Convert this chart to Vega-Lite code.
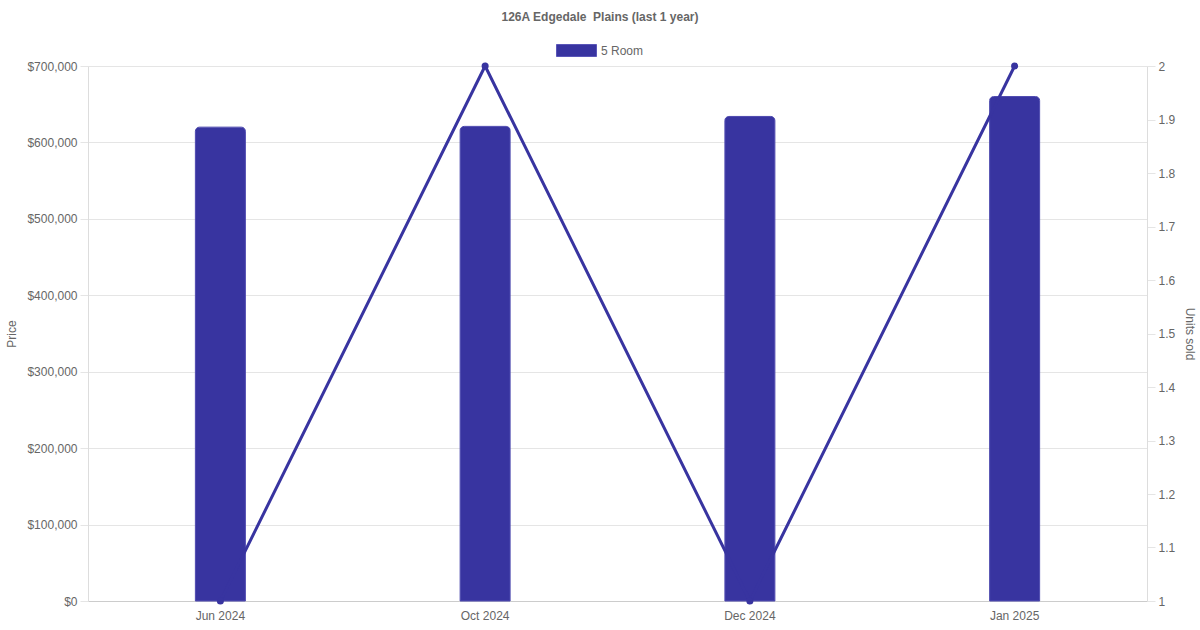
{
  "$schema": "https://vega.github.io/schema/vega-lite/v6.json",
  "width": 1059,
  "height": 535,
  "autosize": "none",
  "padding": {"left": 88, "top": 66, "right": 53, "bottom": 29},
  "background": "white",
  "config": {
    "font": "Liberation Sans",
    "view": {"stroke": null}
  },
  "title": {
    "text": "126A Edgedale\u00a0 Plains (last 1 year)",
    "fontSize": 12,
    "fontWeight": "bold",
    "color": "#666666",
    "anchor": "middle",
    "offset": 6,
    "dx": -17.5,
    "font": "Liberation Sans"
  },
  "data": {
    "values": [
      {"month": "Jun 2024", "price": 620000, "units": 1, "series": "5 Room"},
      {"month": "Oct 2024", "price": 621000, "units": 2, "series": "5 Room"},
      {"month": "Dec 2024", "price": 634000, "units": 1, "series": "5 Room"},
      {"month": "Jan 2025", "price": 660000, "units": 2, "series": "5 Room"}
    ]
  },
  "encoding": {
    "x": {
      "field": "month",
      "type": "nominal",
      "sort": null,
      "scale": {"paddingInner": 0, "paddingOuter": 0},
      "axis": {
        "title": null,
        "labelAngle": 0,
        "ticks": false,
        "labelPadding": 9,
        "labelFontSize": 12,
        "labelColor": "#666666",
        "domainColor": "#cccccc",
        "grid": false
      }
    }
  },
  "layer": [
    {
      "mark": {
        "type": "bar",
        "width": 50,
        "cornerRadiusTopLeft": 4,
        "cornerRadiusTopRight": 4,
        "stroke": "#4a46ad",
        "strokeWidth": 1
      },
      "encoding": {
        "y": {
          "field": "price",
          "type": "quantitative",
          "scale": {"domain": [0, 700000], "nice": false},
          "axis": {
            "title": "Price",
            "titleFontSize": 12,
            "titleFontWeight": "normal",
            "titleColor": "#666666",
            "titlePadding": 8,
            "values": [0, 100000, 200000, 300000, 400000, 500000, 600000, 700000],
            "format": "$,.0f",
            "labelFontSize": 12,
            "labelColor": "#666666",
            "labelPadding": 3,
            "tickSize": 8,
            "tickColor": "#e5e5e5",
            "grid": true,
            "gridColor": "#e5e5e5",
            "domainColor": "#dddddd"
          }
        },
        "color": {
          "field": "series",
          "type": "nominal",
          "scale": {"domain": ["5 Room"], "range": ["#3834a0"]},
          "legend": {
            "title": null,
            "orient": "none",
            "legendX": 468,
            "legendY": -36,
            "symbolType": "M-1,-0.3H1V0.3H-1Z",
            "symbolSize": 1600,
            "symbolStrokeColor": "#5a56b8",
            "symbolStrokeWidth": 1,
            "labelFontSize": 12,
            "labelColor": "#666666",
            "labelOffset": 4
          }
        }
      }
    },
    {
      "mark": {
        "type": "line",
        "color": "#3834a0",
        "strokeWidth": 3,
        "point": {"filled": true, "size": 50, "color": "#3834a0"}
      },
      "encoding": {
        "y": {
          "field": "units",
          "type": "quantitative",
          "scale": {"domain": [1, 2], "nice": false, "zero": false},
          "axis": {
            "orient": "right",
            "title": "Units sold",
            "titleFontSize": 12,
            "titleFontWeight": "normal",
            "titleColor": "#666666",
            "titlePadding": 8,
            "values": [1, 1.1, 1.2, 1.3, 1.4, 1.5, 1.6, 1.7, 1.8, 1.9, 2],
            "format": ".1~f",
            "labelFontSize": 12,
            "labelColor": "#666666",
            "labelPadding": 3,
            "tickSize": 8,
            "tickColor": "#e5e5e5",
            "grid": false,
            "domainColor": "#dddddd"
          }
        }
      }
    }
  ],
  "resolve": {"scale": {"y": "independent"}}
}
